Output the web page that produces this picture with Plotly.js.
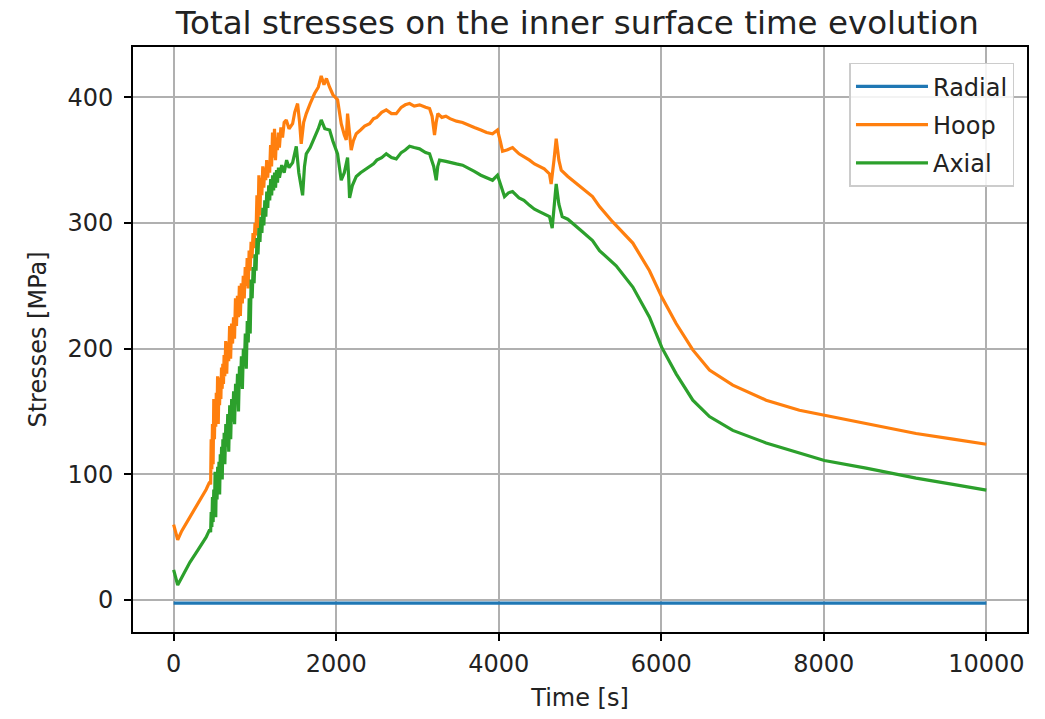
<!DOCTYPE html>
<html>
<head>
<meta charset="utf-8">
<script src="https://cdn.plot.ly/plotly-3.0.1.min.js"></script>
<style>
  html, body { margin: 0; padding: 0; background: #fff; }
  #chart { width: 1045px; height: 719px; }
</style>
</head>
<body>
<div id="chart"></div>
<script>
// ---- Data ----
const radialTime = [0, 2500, 5000, 7500, 10000];
const radialValues = [-2.5, -2.5, -2.5, -2.5, -2.5];

const hoopTime = [0, 50, 100, 200, 300, 400,
  443, 455, 462, 470, 478, 486, 494, 502, 510, 518,
  525, 533, 541, 549, 557, 565, 573, 581, 589, 597,
  605, 613, 621, 629, 641, 653, 665, 677, 689, 701,
  713, 725, 737, 749, 761, 773, 785, 797, 809, 821,
  833, 845, 857, 869, 881, 893, 905, 917, 929, 941,
  953, 965, 977, 989, 1001, 1013, 1025, 1037, 1049, 1061,
  1073, 1085, 1097, 1109, 1121, 1133, 1145, 1157, 1169, 1181,
  1193, 1205, 1217, 1229, 1241, 1253, 1265, 1277, 1289, 1301,
  1320, 1340, 1360, 1386,
  1420, 1464, 1490, 1525, 1550, 1570, 1600, 1632, 1680, 1734,
  1780, 1816, 1850, 1880, 1919, 1960, 2017, 2040, 2062, 2100,
  2124, 2140, 2160, 2185, 2210, 2247, 2300, 2350, 2411, 2460,
  2500, 2560, 2616, 2680, 2739, 2800, 2850, 2903, 2960, 3026,
  3100, 3149, 3180, 3210, 3230, 3251, 3300, 3350, 3400, 3480,
  3555, 3620, 3700, 3780, 3850, 3924, 3985, 4020, 4047, 4100,
  4170, 4250, 4310, 4379, 4440, 4500, 4560, 4625, 4645, 4680,
  4707, 4740, 4769, 4850, 4908, 5030, 5154, 5240, 5400, 5650,
  5855, 6006, 6183, 6388, 6593, 6880, 7290, 7700, 8007, 8520,
  9135, 9590, 10000];
const hoopValues = [60, 48, 55, 66, 76, 88,
  94, 92, 128, 104, 140, 108, 160, 128, 160, 138,
  165, 142, 178, 140, 172, 155, 177, 160, 185, 168,
  188, 172, 195, 178, 206, 180, 205, 190, 218, 192,
  220, 204, 225, 208, 240, 218, 242, 225, 250, 226,
  252, 236, 258, 240, 265, 250, 272, 248, 278, 262,
  285, 272, 292, 280, 300, 290, 322, 296, 338, 306,
  336, 322, 345, 328, 344, 334, 350, 336, 348, 340,
  362, 345, 372, 352, 375, 350, 368, 358, 372, 360,
  376, 368, 380, 382,
  375, 379, 388, 395, 380, 363, 380, 387, 395, 403,
  408, 417, 410, 415, 408, 402, 398, 390, 379, 370,
  366, 387, 375, 358, 365, 371, 374, 377, 379, 383,
  384, 388, 390, 387, 387, 392, 394, 395, 393, 394,
  392, 391, 385, 370, 380, 387, 384, 385, 383, 381,
  380, 378, 376, 374, 372, 371, 374, 365, 357, 358,
  360, 355, 353, 350, 347, 345, 343, 339, 331, 350,
  367, 350, 342, 337, 334, 328, 321, 313, 301, 284,
  262, 241, 220, 199, 183, 171, 159, 151, 147, 140,
  132.5, 128, 124];

const axialTime = [0, 50, 100, 200, 300, 400,
  443, 455, 462, 470, 478, 486, 494, 502, 510, 518,
  526, 534, 542, 550, 558, 566, 574, 582, 590, 598,
  606, 614, 622, 630, 642, 654, 666, 678, 690, 702,
  714, 726, 738, 750, 762, 774, 786, 798, 810, 822,
  834, 846, 858, 870, 882, 894, 906, 918, 930, 942,
  954, 966, 978, 990, 1002, 1014, 1026, 1038, 1050, 1062,
  1074, 1086, 1098, 1110, 1122, 1134, 1146, 1158, 1170, 1182,
  1194, 1206, 1218, 1230, 1242, 1254, 1266, 1278, 1290, 1302,
  1330, 1360, 1390, 1420, 1464, 1490, 1509, 1540, 1587, 1610,
  1632, 1680, 1734, 1780, 1816, 1860, 1919, 1960, 2017, 2040,
  2062, 2100, 2140, 2155, 2165, 2200, 2247, 2300, 2350, 2411,
  2460, 2500, 2560, 2616, 2680, 2739, 2800, 2850, 2903, 2960,
  3026, 3100, 3149, 3200, 3231, 3250, 3272, 3350, 3400, 3480,
  3555, 3620, 3700, 3780, 3850, 3924, 3985, 4030, 4071, 4120,
  4170, 4250, 4310, 4379, 4440, 4500, 4560, 4625, 4658, 4680,
  4707, 4740, 4781, 4850, 4908, 5030, 5154, 5240, 5445, 5650,
  5855, 6006, 6183, 6388, 6593, 6880, 7290, 7700, 8007, 8520,
  9135, 9590, 10000];
const axialValues = [24, 12, 18, 30, 40, 50,
  56, 54, 70, 58, 82, 62, 88, 68, 102, 66,
  100, 80, 106, 86, 110, 84, 116, 98, 122, 96,
  128, 108, 133, 108, 140, 122, 148, 118, 155, 128,
  160, 142, 166, 140, 172, 156, 180, 150, 186, 170,
  194, 168, 200, 186, 212, 184, 222, 205, 240, 212,
  255, 240, 265, 252, 275, 262, 288, 275, 296, 285,
  305, 292, 312, 298, 318, 305, 325, 312, 330, 318,
  335, 322, 338, 326, 340, 328, 342, 332, 344, 336,
  346, 340, 350, 344, 348, 355, 361, 340, 322, 345,
  355, 360, 368, 375, 382, 375, 374, 365, 355, 345,
  334, 340, 352, 335, 320, 330, 337, 340, 342, 345,
  347, 350, 352, 355, 352, 351, 356, 358, 361, 360,
  359, 356, 355, 345, 334, 345, 350, 349, 348, 347,
  346, 344, 341, 338, 336, 334, 338, 328, 321, 324,
  325, 320, 318, 314, 311, 309, 307, 305, 296, 315,
  331, 315, 305, 303, 300, 293, 286, 278, 266, 249,
  225, 201, 180, 159, 146, 135, 125, 117, 111, 105,
  97, 92, 87.5];

const seriesNames = ["Radial", "Hoop", "Axial"];
const xTickValues = [0, 2000, 4000, 6000, 8000, 10000];
const yTickValues = [0, 100, 200, 300, 400];

// ---- Chart ----
const FONT = "DejaVu Sans, sans-serif";
const traces = [
  { x: radialTime, y: radialValues, name: seriesNames[0], legendgroup: "a", mode: "lines", line: { color: "#1f77b4", width: 3.2 } },
  { x: hoopTime, y: hoopValues, name: seriesNames[1], legendgroup: "b", mode: "lines", line: { color: "#ff7f0e", width: 3.2 } },
  { x: axialTime, y: axialValues, name: seriesNames[2], legendgroup: "c", mode: "lines", line: { color: "#2ca02c", width: 3.2 } }
];

const axisCommon = {
  showline: true, mirror: true, linecolor: "#000", linewidth: 2,
  ticks: "outside", ticklen: 7, tickwidth: 2, tickcolor: "#000",
  showgrid: true, gridcolor: "#b0b0b0", gridwidth: 2,
  zeroline: false,
  tickfont: { family: FONT, size: 24, color: "#222" }
};

const layout = {
  width: 1045, height: 719,
  paper_bgcolor: "#fff", plot_bgcolor: "#fff",
  margin: { l: 133, r: 18, t: 47, b: 87 },
  title: { text: "Total stresses on the inner surface time evolution", font: { family: FONT, size: 32.5, color: "#222" },
           xref: "paper", x: 0.497, xanchor: "center", y: 0.968, yanchor: "middle" },
  xaxis: Object.assign({}, axisCommon, {
    range: [-500, 10500], tickvals: xTickValues, ticktext: xTickValues.map(String),
    ticklabelstandoff: 2,
    title: { text: "Time [s]", font: { family: FONT, size: 24, color: "#222" }, standoff: 12 }
  }),
  yaxis: Object.assign({}, axisCommon, {
    range: [-25.4, 440], tickvals: yTickValues, ticktext: yTickValues.map(String),
    ticklabelstandoff: 6,
    title: { text: "Stresses [MPa]", font: { family: FONT, size: 24, color: "#222" }, standoff: 14 }
  }),
  showlegend: true,
  legend: {
    x: 0.986, y: 0.973, xanchor: "right", yanchor: "top",
    bgcolor: "rgba(255,255,255,0.85)", bordercolor: "#cccccc", borderwidth: 1.5,
    font: { family: FONT, size: 24, color: "#222" },
    traceorder: "grouped", tracegroupgap: 4, itemwidth: 72
  }
};

Plotly.newPlot("chart", traces, layout, { staticPlot: true, displayModeBar: false });
</script>
</body>
</html>
